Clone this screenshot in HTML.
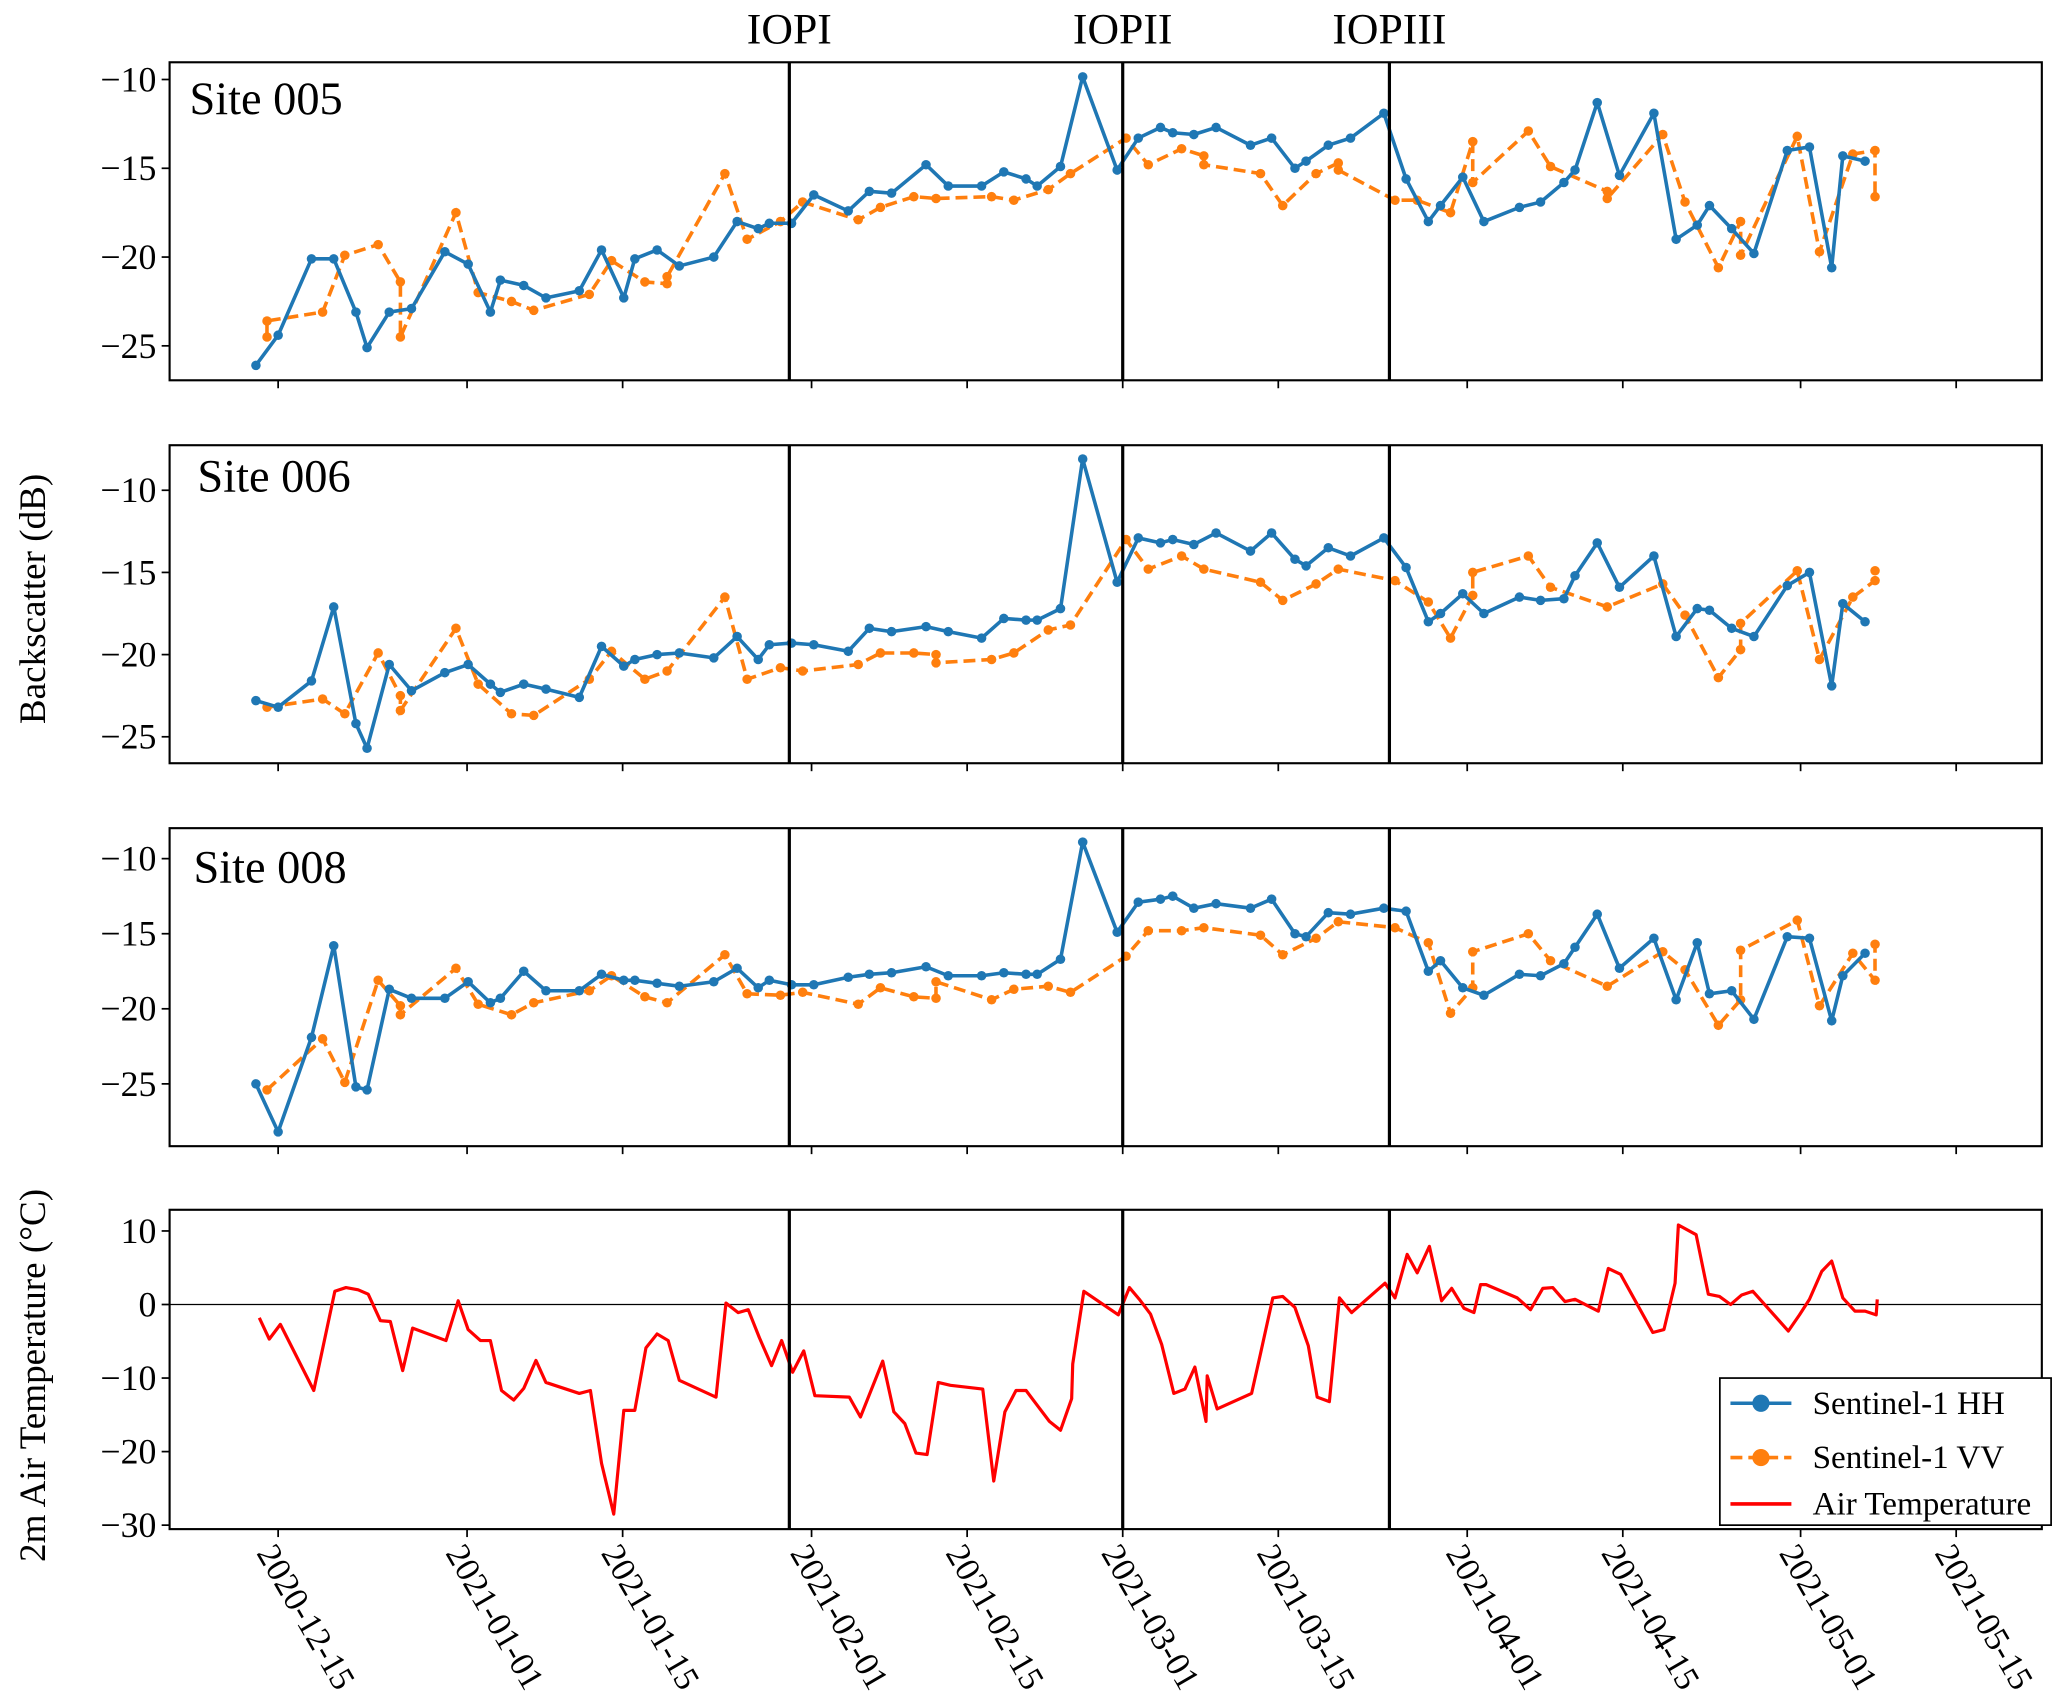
<!DOCTYPE html>
<html><head><meta charset="utf-8">
<style>
html,body{margin:0;padding:0;background:#fff;}
svg{display:block;font-family:"Liberation Serif","DejaVu Serif",serif;}
</style></head>
<body>
<svg id="chart" xmlns="http://www.w3.org/2000/svg" width="2067" height="1708" viewBox="0 0 1560 1289" preserveAspectRatio="none"></svg>
<script>
// ---- data (x = days since 2021-01-01) ----
const tickDays = [-17, 0, 14, 31, 45, 59, 73, 90, 104, 120, 134];
const tickLabels = ["2020-12-15","2021-01-01","2021-01-15","2021-02-01","2021-02-15","2021-03-01","2021-03-15","2021-04-01","2021-04-15","2021-05-01","2021-05-15"];
const iopDays = [29.0, 59.0, 83.0];
const iopLabels = ["IOPI","IOPII","IOPIII"];
const hhDates = [-19,-17,-14,-12,-10,-9,-7,-5,-2,0.1,2.1,3,5.1,7.1,10.1,12.1,14.1,15.1,17.1,19.1,22.2,24.3,26.2,27.2,29.2,31.2,34.3,36.2,38.2,41.3,43.3,46.3,48.3,50.3,51.3,53.4,55.4,58.5,60.4,62.4,63.5,65.4,67.4,70.5,72.4,74.5,75.5,77.5,79.5,82.5,84.5,86.5,87.6,89.6,91.5,94.7,96.6,98.7,99.7,101.7,103.7,106.8,108.8,110.7,111.8,113.8,115.8,118.8,120.8,122.8,123.8,125.8];
const hh005 = [-26.1,-24.4,-20.1,-20.1,-23.1,-25.1,-23.1,-22.9,-19.7,-20.4,-23.1,-21.3,-21.6,-22.3,-21.9,-19.6,-22.3,-20.1,-19.6,-20.5,-20.0,-18.0,-18.4,-18.1,-18.1,-16.5,-17.4,-16.3,-16.4,-14.8,-16.0,-16.0,-15.2,-15.6,-16.0,-14.9,-9.85,-15.1,-13.3,-12.7,-13.0,-13.1,-12.7,-13.7,-13.3,-15.0,-14.6,-13.7,-13.3,-11.9,-15.6,-18.0,-17.1,-15.5,-18.0,-17.2,-16.9,-15.8,-15.1,-11.3,-15.4,-11.9,-19.0,-18.2,-17.1,-18.4,-19.8,-14.0,-13.8,-20.6,-14.3,-14.6];
const hh006 = [-22.8,-23.2,-21.6,-17.1,-24.2,-25.7,-20.6,-22.2,-21.1,-20.6,-21.8,-22.3,-21.8,-22.1,-22.6,-19.5,-20.7,-20.3,-20.0,-19.9,-20.2,-18.9,-20.3,-19.4,-19.3,-19.4,-19.8,-18.4,-18.6,-18.3,-18.6,-19.0,-17.8,-17.9,-17.9,-17.2,-8.1,-15.6,-12.9,-13.2,-13.0,-13.3,-12.6,-13.7,-12.6,-14.2,-14.6,-13.5,-14.0,-12.9,-14.7,-18.0,-17.5,-16.3,-17.5,-16.5,-16.7,-16.6,-15.2,-13.2,-15.9,-14.0,-18.9,-17.2,-17.3,-18.4,-18.9,-15.8,-15.0,-21.9,-16.9,-18.0];
const hh008 = [-25.0,-28.2,-21.9,-15.8,-25.2,-25.4,-18.7,-19.3,-19.3,-18.2,-19.6,-19.3,-17.5,-18.8,-18.8,-17.7,-18.1,-18.1,-18.3,-18.5,-18.2,-17.3,-18.6,-18.1,-18.4,-18.4,-17.9,-17.7,-17.6,-17.2,-17.8,-17.8,-17.6,-17.7,-17.7,-16.7,-8.9,-14.9,-12.9,-12.7,-12.5,-13.3,-13.0,-13.3,-12.7,-15.0,-15.2,-13.6,-13.7,-13.3,-13.5,-17.5,-16.8,-18.6,-19.1,-17.7,-17.8,-17.0,-15.9,-13.7,-17.3,-15.3,-19.4,-15.6,-19.0,-18.8,-20.7,-15.2,-15.3,-20.8,-17.8,-16.3];
const vvDates005 = [-18,-18,-13,-11,-8,-6,-6,-1,1,4,6,11,13,16,18,18,23.2,25.2,28.2,30.2,35.2,37.2,40.2,42.2,47.2,49.2,52.3,54.3,59.3,61.3,64.3,66.3,66.3,71.4,73.4,76.4,78.4,78.4,83.5,85.5,88.5,90.5,90.5,95.5,97.5,102.6,102.6,107.6,109.6,112.6,114.6,114.6,119.7,121.7,124.7,126.7,126.7];
const vv005 = [-24.5,-23.6,-23.1,-19.9,-19.3,-21.4,-24.5,-17.5,-22.0,-22.5,-23.0,-22.1,-20.2,-21.4,-21.5,-21.1,-15.3,-19.0,-18.0,-16.9,-17.9,-17.2,-16.6,-16.7,-16.6,-16.8,-16.2,-15.3,-13.3,-14.8,-13.9,-14.3,-14.8,-15.3,-17.1,-15.3,-14.7,-15.1,-16.8,-16.8,-17.5,-13.5,-15.8,-12.9,-14.9,-16.3,-16.7,-13.1,-16.9,-20.6,-18.0,-19.9,-13.2,-19.7,-14.2,-14.0,-16.6];
const vvDates006 = [-18,-13,-11,-8,-6,-6,-1,1,4,6,11,13,16,18,23.2,25.2,28.2,30.2,35.2,37.2,40.2,42.2,42.2,47.2,49.2,52.3,54.3,59.3,61.3,64.3,66.3,71.4,73.4,76.4,78.4,83.5,86.5,88.5,90.5,90.5,95.5,97.5,102.6,107.6,109.6,112.6,114.6,114.6,119.7,121.7,124.7,126.7,126.7];
const vv006 = [-23.2,-22.7,-23.6,-19.9,-22.5,-23.4,-18.4,-21.8,-23.6,-23.7,-21.5,-19.8,-21.5,-21.0,-16.5,-21.5,-20.8,-21.0,-20.6,-19.9,-19.9,-20.0,-20.5,-20.3,-19.9,-18.5,-18.2,-13.0,-14.8,-14.0,-14.8,-15.6,-16.7,-15.7,-14.8,-15.5,-16.8,-19.0,-16.4,-15.0,-14.0,-15.9,-17.1,-15.7,-17.6,-21.4,-19.7,-18.1,-14.9,-20.3,-16.5,-15.5,-14.9];
const vvDates008 = [-18,-13,-11,-8,-6,-6,-1,1,4,6,11,13,16,18,23.2,25.2,28.2,30.2,35.2,37.2,40.2,42.2,42.2,47.2,49.2,52.3,54.3,59.3,61.3,64.3,66.3,71.4,73.4,76.4,78.4,83.5,86.5,88.5,90.5,90.5,95.5,97.5,102.6,107.6,109.6,112.6,114.6,114.6,119.7,121.7,124.7,126.7,126.7];
const vv008 = [-25.4,-22.0,-24.9,-18.1,-19.8,-20.4,-17.3,-19.7,-20.4,-19.6,-18.8,-17.8,-19.2,-19.6,-16.4,-19.0,-19.1,-18.9,-19.7,-18.6,-19.2,-19.3,-18.2,-19.4,-18.7,-18.5,-18.9,-16.5,-14.8,-14.8,-14.6,-15.1,-16.4,-15.3,-14.2,-14.6,-15.6,-20.3,-18.6,-16.2,-15.0,-16.8,-18.5,-16.2,-17.4,-21.1,-19.4,-16.1,-14.1,-19.8,-16.3,-18.1,-15.7];
const tempDates = [-18.7,-17.8,-16.8,-13.8,-11.9,-10.9,-9.8,-8.9,-7.8,-6.9,-5.8,-4.9,-1.9,-0.8,0.1,1.2,2.1,3.1,4.2,5.1,6.2,7.1,10.1,11.1,12.1,13.2,14.1,15.1,16.1,17.1,18.1,19.1,22.4,23.3,24.4,25.3,26.3,27.4,28.3,29.3,30.3,31.3,34.4,35.4,37.4,38.4,39.4,40.4,41.4,42.4,43.5,46.4,47.4,48.4,49.4,50.3,51.4,52.4,53.4,54.4,54.5,55.5,58.6,59.6,60.5,61.5,62.5,63.6,64.6,65.5,66.5,66.6,67.5,70.6,71.4,72.5,73.4,74.5,75.7,76.5,77.6,78.5,79.6,82.6,83.5,84.6,85.5,86.6,87.7,88.6,89.7,90.6,91.2,91.7,94.5,95.7,96.8,97.7,98.8,99.7,101.8,102.7,103.8,106.7,107.7,108.7,109.0,110.6,111.7,112.7,113.7,114.7,115.7,118.9,119.9,120.8,121.9,122.8,123.8,124.9,125.8,126.8,126.9];
const tempValues = [-1.8,-4.7,-2.7,-11.7,1.8,2.3,2.0,1.4,-2.2,-2.3,-9.0,-3.2,-4.9,0.5,-3.4,-4.9,-4.9,-11.7,-13.0,-11.4,-7.6,-10.6,-12.1,-11.7,-21.6,-28.5,-14.4,-14.4,-5.9,-4.0,-4.9,-10.3,-12.6,0.2,-1.1,-0.7,-4.5,-8.3,-4.9,-9.2,-6.3,-12.4,-12.6,-15.3,-7.7,-14.6,-16.2,-20.2,-20.4,-10.6,-11.0,-11.5,-24.0,-14.6,-11.7,-11.7,-13.9,-15.9,-17.1,-12.8,-8.1,1.8,-1.4,2.3,0.7,-1.3,-5.4,-12.1,-11.5,-8.5,-15.9,-9.7,-14.2,-12.1,-6.7,0.9,1.1,-0.4,-5.6,-12.6,-13.2,0.9,-1.1,2.9,0.9,6.8,4.3,7.9,0.5,2.2,-0.5,-1.1,2.7,2.7,0.9,-0.7,2.2,2.3,0.4,0.7,-0.9,4.9,4.1,-3.8,-3.4,2.9,10.8,9.5,1.4,1.1,0,1.3,1.8,-3.6,-1.4,0.7,4.5,5.9,0.9,-0.9,-0.9,-1.4,0.7];
const yTicks005 = [-10,-15,-20,-25];
const yTicks006 = [-10,-15,-20,-25];
const yTicks008 = [-10,-15,-20,-25];
const yTicksTemp = [10,0,-10,-20,-30];

// ---- layout ----
const NS = "http://www.w3.org/2000/svg";
const svg = document.getElementById('chart');
const L = 128, R = 1541;
const xDay = d => 352.5 + 8.387 * d;
function mk(tag, attrs, parent) {
  const e = document.createElementNS(NS, tag);
  for (const k in attrs) e.setAttribute(k, attrs[k]);
  (parent || svg).appendChild(e);
  return e;
}
function yScale(p) { return v => p.top + (p.vmax - v) / (p.vmax - p.vmin) * (p.bottom - p.top); }

const panels = [
  {name:'site-005', top:47, bottom:287, vmax:-9.03, vmin:-26.94, ticks:yTicks005, label:'Site 005', lx:143, ly:86,
   hh:hh005, vvD:vvDates005, vv:vv005},
  {name:'site-006', top:336, bottom:576, vmax:-7.26, vmin:-26.61, ticks:yTicks006, label:'Site 006', lx:149, ly:371,
   hh:hh006, vvD:vvDates006, vv:vv006},
  {name:'site-008', top:625, bottom:865, vmax:-7.97, vmin:-29.15, ticks:yTicks008, label:'Site 008', lx:146, ly:666,
   hh:hh008, vvD:vvDates008, vv:vv008},
  {name:'air-temperature', top:913, bottom:1154, vmax:12.88, vmin:-30.54, ticks:yTicksTemp, temp:true}
];

panels.forEach((p, pi) => {
  const g = mk('g', {});
  
  
  const y = yScale(p);
  const cid = 'clip' + pi;
  const cp = mk('clipPath', {id: cid}, g);
  mk('rect', {x:L, y:p.top, width:R-L, height:p.bottom-p.top}, cp);
  p.ticks.forEach(t => {
    const ty = y(t);
    const tk = mk('line', {x1:L-6, x2:L, y1:ty, y2:ty, stroke:'#000', 'stroke-width':1.3}, g);
    
    
    const tl = mk('text', {x:L-10, y:ty+9, 'text-anchor':'end', 'font-size':27}, g);
    tl.textContent = (t < 0 ? '\u2212' + Math.abs(t) : String(t));
    
    
  });
  tickDays.forEach((d, i) => {
    const tx = xDay(d);
    const tk = mk('line', {x1:tx, x2:tx, y1:p.bottom, y2:p.bottom+6, stroke:'#000', 'stroke-width':1.3}, g);
    
    
    if (p.temp) {
      const tl = mk('text', {x:0, y:0, 'font-size':26, transform:`translate(${tx-1},${p.bottom+9}) rotate(60)`, 'dominant-baseline':'hanging'}, g);
      tl.textContent = tickLabels[i];
      
      
    }
  });
  const data = mk('g', {'clip-path':`url(#${cid})`}, g);
  if (p.temp) {
    const zl = mk('line', {x1:L, x2:R, y1:y(0), y2:y(0), stroke:'#000', 'stroke-width':1}, data);
    
    
    const pts = tempDates.map((d, i) => xDay(d).toFixed(1) + ',' + y(tempValues[i]).toFixed(1)).join(' ');
    const tl = mk('polyline', {points:pts, fill:'none', stroke:'#ff0000', 'stroke-width':2.4, 'stroke-linejoin':'round'}, data);
    
    
  } else {
    const vp = p.vvD.map((d, i) => xDay(d).toFixed(1) + ',' + y(p.vv[i]).toFixed(1)).join(' ');
    const vl = mk('polyline', {points:vp, fill:'none', stroke:'#ff7f0e', 'stroke-width':2.7, 'stroke-dasharray':'9,4.5'}, data);
    
    
    p.vvD.forEach((d, i) => {
      const c = mk('circle', {cx:xDay(d), cy:y(p.vv[i]), r:3.6, fill:'#ff7f0e'}, data);
      
      
    });
    const hp = hhDates.map((d, i) => xDay(d).toFixed(1) + ',' + y(p.hh[i]).toFixed(1)).join(' ');
    const hl = mk('polyline', {points:hp, fill:'none', stroke:'#1f77b4', 'stroke-width':2.7, 'stroke-linejoin':'round'}, data);
    
    
    hhDates.forEach((d, i) => {
      const c = mk('circle', {cx:xDay(d), cy:y(p.hh[i]), r:3.6, fill:'#1f77b4'}, data);
      
      
    });
    const sl = mk('text', {x:p.lx, y:p.ly, 'font-size':35}, g);
    sl.textContent = p.label;
    
    
  }
  iopDays.forEach(d => {
    const il = mk('line', {x1:xDay(d), x2:xDay(d), y1:p.top, y2:p.bottom, stroke:'#000', 'stroke-width':2.4}, g);
    
    
  });
  const fr = mk('rect', {x:L, y:p.top, width:R-L, height:p.bottom-p.top, fill:'none', stroke:'#000', 'stroke-width':1.6}, g);
  
  
});

iopDays.forEach((d, i) => {
  const t = mk('text', {x:xDay(d), y:33, 'text-anchor':'middle', 'font-size':33});
  t.textContent = iopLabels[i];
  
  
});

const yt1 = mk('text', {x:0, y:0, 'font-size':28, 'text-anchor':'middle', transform:'translate(34,452) rotate(-90)'});
yt1.textContent = 'Backscatter (dB)';


const yt2 = mk('text', {x:0, y:0, 'font-size':28, 'text-anchor':'middle', transform:'translate(34,1038) rotate(-90)'});
yt2.textContent = '2m Air Temperature (\u00B0C)';



const lg = mk('g', {});


mk('rect', {x:1298, y:1040, width:250, height:111, fill:'#fff', stroke:'#000', 'stroke-width':1.3}, lg);
const entries = [
  {label:'Sentinel-1 HH', color:'#1f77b4', dash:null, marker:true, y:1059, name:'legend-entry-hh'},
  {label:'Sentinel-1 VV', color:'#ff7f0e', dash:'9,4.5', marker:true, y:1100, name:'legend-entry-vv'},
  {label:'Air Temperature', color:'#ff0000', dash:null, marker:false, y:1135, name:'legend-entry-air-temperature'}
];
entries.forEach(e => {
  const eg = mk('g', {}, lg);
  
  
  const ln = mk('line', {x1:1306, x2:1352, y1:e.y, y2:e.y, stroke:e.color, 'stroke-width':2.7}, eg);
  if (e.dash) ln.setAttribute('stroke-dasharray', e.dash);
  if (e.marker) mk('circle', {cx:1329, cy:e.y, r:6.5, fill:e.color}, eg);
  const t = mk('text', {x:1368, y:e.y+8, 'font-size':25}, eg);
  t.textContent = e.label;
});
</script>
</body></html>
